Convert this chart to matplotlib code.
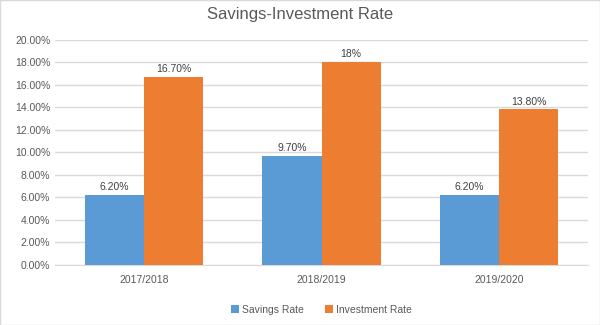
import matplotlib.pyplot as plt
import numpy as np
from matplotlib.patches import Rectangle

plt.rcParams['font.family'] = ['Liberation Sans', 'DejaVu Sans']

years = ["2017/2018", "2018/2019", "2019/2020"]
savings = [6.2, 9.7, 6.2]
investment = [16.7, 18.0, 13.8]
savings_labels = ["6.20%", "9.70%", "6.20%"]
investment_labels = ["16.70%", "18%", "13.80%"]
yticks = [0, 2, 4, 6, 8, 10, 12, 14, 16, 18, 20]

text_color = "#595959"
blue = "#5B9BD5"
orange = "#ED7D31"

fig = plt.figure(figsize=(6, 3.25), dpi=100)
fig.patches.append(Rectangle((0, 0), 1, 1, transform=fig.transFigure,
                             fill=False, edgecolor="#D9D9D9", linewidth=1))
ax = fig.add_axes([0.092, 0.185, 0.888, 0.693])

x = np.arange(len(years))
w = 0.333
b1 = ax.bar(x - w / 2, savings, w, color=blue, label="Savings Rate", zorder=3)
b2 = ax.bar(x + w / 2, investment, w, color=orange, label="Investment Rate", zorder=3)

for bars, labels in ((b1, savings_labels), (b2, investment_labels)):
    for rect, lab in zip(bars, labels):
        ax.annotate(lab, (rect.get_x() + rect.get_width() / 2, rect.get_height()),
                    xytext=(0, 2), textcoords="offset points", ha="center", va="bottom",
                    fontsize=7.5, color="#404040")

ax.set_xlim(-0.5, 2.5)
ax.set_ylim(0, 20)
ax.set_yticks(yticks)
ax.set_yticklabels([f"{t:.2f}%" for t in yticks])
ax.set_xticks(x)
ax.set_xticklabels(years)
ax.tick_params(axis="both", length=0, labelsize=7.5, colors=text_color)
ax.tick_params(axis="x", pad=7)
ax.grid(axis="y", color="#D9D9D9", linewidth=1, zorder=0)
for s in ("top", "right", "left"):
    ax.spines[s].set_visible(False)
ax.spines["bottom"].set_color("#D9D9D9")

fig.text(0.5, 0.955, "Savings-Investment Rate", ha="center", va="center",
         fontsize=12, color=text_color)
ax.legend(loc="center", bbox_to_anchor=(0.5, -0.2), ncol=2, frameon=False,
          fontsize=7.5, labelcolor=text_color, handlelength=0.8, handleheight=0.8,
          handletextpad=0.3, columnspacing=2.0)

fig.savefig("out.png", dpi=100)
